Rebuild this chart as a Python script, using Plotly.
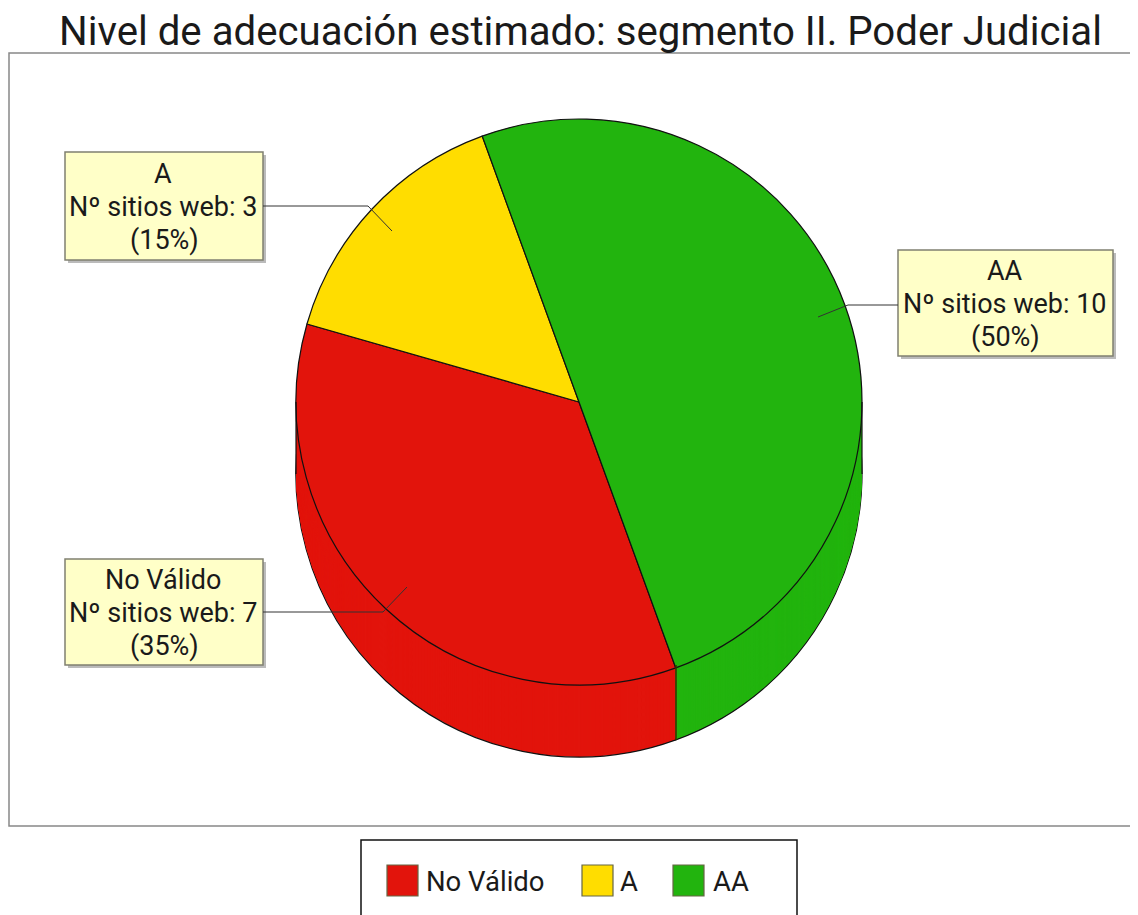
import plotly.graph_objects as go

PAGE_W, PAGE_H = 1138, 915
BODY = 8  # page margin the browser puts round the figure
W, H = PAGE_W - BODY, PAGE_H - BODY
TITLE = "Nivel de adecuación estimado: segmento II. Poder Judicial"
categories = ["No Válido", "A", "AA"]
sites = [7, 3, 10]
colors = ["#E2140C", "#FFDD00", "#22B40E"]
value_line = "Nº sitios web: "
FONT = "Roboto"
TEXT = "#1a1a1a"

ROT = 160
CX, CY, R = 579, 402, 283
DEPTH = 72

def fx(p):
    return (p - BODY) / W

def fy(p):
    return 1 - (p - BODY) / H

def pie(dy, line):
    return go.Pie(
        labels=categories, values=sites, sort=False, direction="clockwise",
        rotation=ROT, textinfo="none", hoverinfo="label+value+percent",
        showlegend=False,
        marker=dict(colors=colors, line=dict(color="#111111", width=line)),
        domain=dict(x=[fx(CX - R), fx(CX + R)],
                    y=[fy(CY + dy + R), fy(CY + dy - R)]),
    )

fig = go.Figure()
# stacked discs build the extruded side of the pie
fig.add_trace(pie(DEPTH, 1.2))
for d in range(DEPTH - 1, 0, -1):
    fig.add_trace(pie(d, 0))
fig.add_trace(pie(0, 1.2))

shapes, annos = [], []

def rect(x0, y0, x1, y1, fill="rgba(0,0,0,0)", line="#888888", lw=1.5, layer="below"):
    shapes.append(dict(type="rect", xref="paper", yref="paper", layer=layer,
                       x0=fx(x0), x1=fx(x1), y0=fy(y1), y1=fy(y0),
                       fillcolor=fill, line=dict(color=line, width=lw)))

def seg(x0, y0, x1, y1, color="#333333", lw=1):
    shapes.append(dict(type="line", xref="paper", yref="paper", layer="above",
                       x0=fx(x0), x1=fx(x1), y0=fy(y0), y1=fy(y1),
                       line=dict(color=color, width=lw)))

def text(t, x, y, size, anchor="center"):
    annos.append(dict(text=t, xref="paper", yref="paper", x=fx(x), y=fy(y),
                      xanchor=anchor, yanchor="middle", showarrow=False,
                      font=dict(family=FONT, size=size, color=TEXT)))

# frame
rect(9, 53, PAGE_W + 5, 826)
text(TITLE, 580, 31, 40.2)

# side edges
seg(CX - R, CY, CX - R, CY + DEPTH, "#111111", 1.2)
seg(CX + R, CY, CX + R, CY + DEPTH, "#111111", 1.2)
seg(676, 665, 676, 740, "#333300", 1.5)

# callouts
boxes = [(65, 559, 263, 665), (65, 152, 263, 260), (898, 250, 1113, 356)]
leaders = [
    [(263, 612), (383, 612), (407, 587)],
    [(263, 206), (368, 206), (392, 231)],
    [(898, 305), (848, 305), (818, 317)],
]
total = sum(sites)
for cat, n, b, pts in zip(categories, sites, boxes, leaders):
    x0, y0, x1, y1 = b
    rect(x0 + 3, y0 + 3, x1 + 3, y1 + 3, fill="#BBBBBB", line="#BBBBBB", lw=0, layer="above")
    rect(x0, y0, x1, y1, fill="#FFFFC8", line="#808070", lw=1.5, layer="above")
    for a, c in zip(pts, pts[1:]):
        seg(a[0], a[1], c[0], c[1])
    mid = (x0 + x1) / 2
    cy = (y0 + y1) / 2
    text(cat, mid - 1, cy - 32, 27)
    text(f"{value_line}{n}", mid - 1, cy + 1, 27)
    text(f"({round(100 * n / total)}%)", mid, cy + 34, 27)

# legend
rect(361, 840, 797, PAGE_H + 5, line="#111111", lw=1.5)
swatch_x = [387, 582, 673]
label_x = [424, 618, 711]
for cat, col, sx, lx in zip(categories, colors, swatch_x, label_x):
    rect(sx, 865, sx + 31, 896, fill=col, line="#666644", lw=1.2)
    text(cat, lx, 881, 27.5, "left")

fig.update_layout(
    width=W, height=H, autosize=False,
    margin=dict(l=0, r=0, t=0, b=0),
    paper_bgcolor="white", plot_bgcolor="white",
    shapes=shapes, annotations=annos,
)
fig.write_html("out.html", config=dict(displayModeBar=False))
